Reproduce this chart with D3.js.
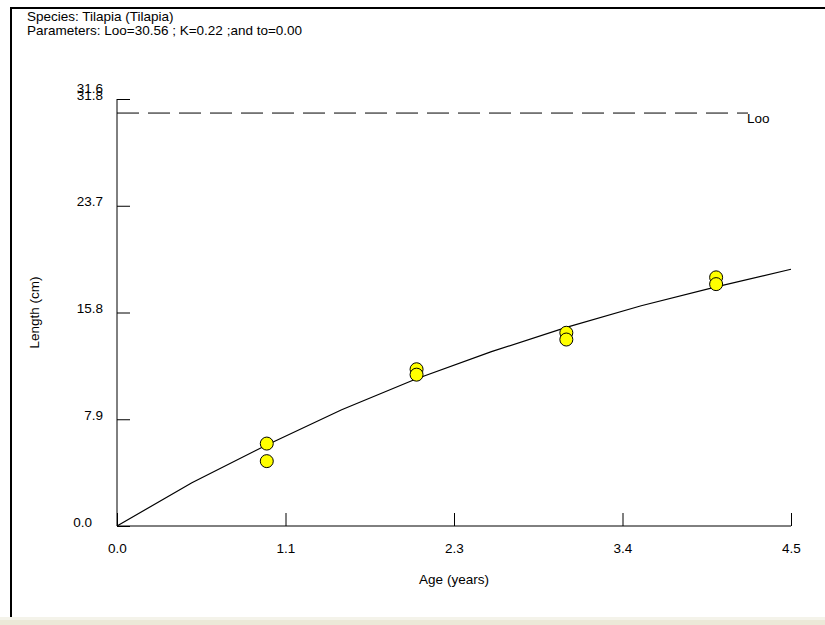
<!DOCTYPE html>
<html>
<head>
<meta charset="utf-8">
<script src="https://cdn.jsdelivr.net/npm/d3@7"></script>
<style>
  html, body { margin: 0; padding: 0; background: #fff; }
  svg { display: block; }
  text { font-family: "Liberation Sans", Arial, sans-serif; fill: #000; }
</style>
</head>
<body>
<script>
// ---- data ----
const speciesLine = "Species: Tilapia (Tilapia)";
const paramLine = "Parameters: Loo=30.56 ; K=0.22 ;and to=0.00";
const Loo = 30.56;
const obsAges = [1, 1, 2, 2, 3, 3, 4, 4];
const obsLengths = [6.1, 4.8, 11.6, 11.2, 14.3, 13.8, 18.4, 17.9];
const curveAges = [0, 0.5, 1, 1.5, 2, 2.5, 3, 3.5, 4, 4.5];
const curveLengths = [0, 3.2, 6.0, 8.6, 10.9, 12.9, 14.7, 16.3, 17.7, 19.0];
const xTickValues = [0, 1.125, 2.25, 3.375, 4.5];
const xTickLabels = ["0.0", "1.1", "2.3", "3.4", "4.5"];
const yTickValues = [0, 7.9, 15.8, 23.7, 31.6];
const yTickLabels = ["0.0", "7.9", "15.8", "23.7", "31.8"];
const yExtraLabel = "31.6";
const xTitle = "Age (years)";
const yTitle = "Length (cm)";
const looLabel = "Loo";

const W = 825, H = 625;
const FS = 13.5;
const svg = d3.select("body").append("svg").attr("width", W).attr("height", H);

// background & frame
svg.append("rect").attr("x", 0).attr("y", 0).attr("width", W).attr("height", H).attr("fill", "#fff");
svg.append("rect").attr("x", 0).attr("y", 617).attr("width", W).attr("height", 8).attr("fill", "#ECE9D8");
svg.append("rect").attr("x", 0).attr("y", 617).attr("width", W).attr("height", 3).attr("fill", "#F4F3EA");
svg.append("line").attr("x1", 11).attr("x2", 11).attr("y1", 7).attr("y2", 617).attr("stroke", "#000").attr("stroke-width", 2);
svg.append("line").attr("x1", 10).attr("x2", W).attr("y1", 8).attr("y2", 8).attr("stroke", "#000").attr("stroke-width", 2);

// header
svg.append("text").attr("x", 27).attr("y", 21).attr("font-size", FS).text(speciesLine);
svg.append("text").attr("x", 27).attr("y", 35).attr("font-size", FS).text(paramLine);

// scales
const x = d3.scaleLinear().domain([0, 4.5]).range([117, 791]);
const y = d3.scaleLinear().domain([0, 31.6]).range([526, 99]);

const g = svg.append("g");

// axes lines
g.append("line").attr("x1", x(0)).attr("x2", x(4.5)).attr("y1", y(0)).attr("y2", y(0)).attr("stroke", "#000");
g.append("line").attr("x1", x(0)).attr("x2", x(0)).attr("y1", y(0)).attr("y2", y(31.6)).attr("stroke", "#000");

// x ticks
const xAxis = d3.axisTop(x).tickValues(xTickValues).tickSize(13).tickFormat((d, i) => xTickLabels[i]);
const xg = g.append("g").attr("transform", `translate(0,${y(0)})`).call(xAxis);
xg.select(".domain").remove();
xg.selectAll("line").attr("stroke", "#000");
xg.selectAll("text").attr("y", 17).attr("dy", "0.71em").attr("font-size", FS)
  .attr("font-family", "Liberation Sans, Arial, sans-serif").attr("fill", "#000");

// y ticks
const yAxis = d3.axisRight(y).tickValues(yTickValues).tickSize(13).tickFormat((d, i) => yTickLabels[i]);
const yg = g.append("g").attr("transform", `translate(${x(0)},0)`).call(yAxis);
yg.select(".domain").remove();
yg.selectAll("line").attr("stroke", "#000");
yg.selectAll("text").attr("x", (d, i) => i === 0 ? -25 : -14).attr("dy", "0.0em").attr("text-anchor", "end")
  .attr("font-size", FS).attr("font-family", "Liberation Sans, Arial, sans-serif").attr("fill", "#000");
g.append("text").attr("x", x(0) - 14).attr("y", y(31.6) - 6).attr("text-anchor", "end")
  .attr("font-size", FS).text(yExtraLabel);

// axis titles
svg.append("text").attr("x", (x(0) + x(4.5)) / 2).attr("y", 584).attr("text-anchor", "middle")
  .attr("font-size", FS).text(xTitle);
svg.append("text").attr("transform", `translate(39,${y(15.8)}) rotate(-90)`).attr("text-anchor", "middle")
  .attr("font-size", FS).text(yTitle);

// Loo dashed line
g.append("line").attr("x1", x(0)).attr("x2", 748).attr("y1", y(Loo)).attr("y2", y(Loo))
  .attr("stroke", "#000").attr("stroke-dasharray", "22,9");
g.append("text").attr("x", 747).attr("y", y(Loo) + 10).attr("font-size", FS).text(looLabel);

// growth curve
const line = d3.line().x((d, i) => x(curveAges[i])).y((d, i) => y(curveLengths[i]));
g.append("path").datum(curveAges).attr("d", line).attr("fill", "none").attr("stroke", "#000").attr("stroke-width", 1.2);

// observations
g.selectAll("circle.obs").data(obsAges).enter().append("circle")
  .attr("class", "obs")
  .attr("cx", d => x(d))
  .attr("cy", (d, i) => y(obsLengths[i]))
  .attr("r", 6.5)
  .attr("fill", "#FFFF00")
  .attr("stroke", "#000")
  .attr("stroke-width", 1);
</script>
</body>
</html>
